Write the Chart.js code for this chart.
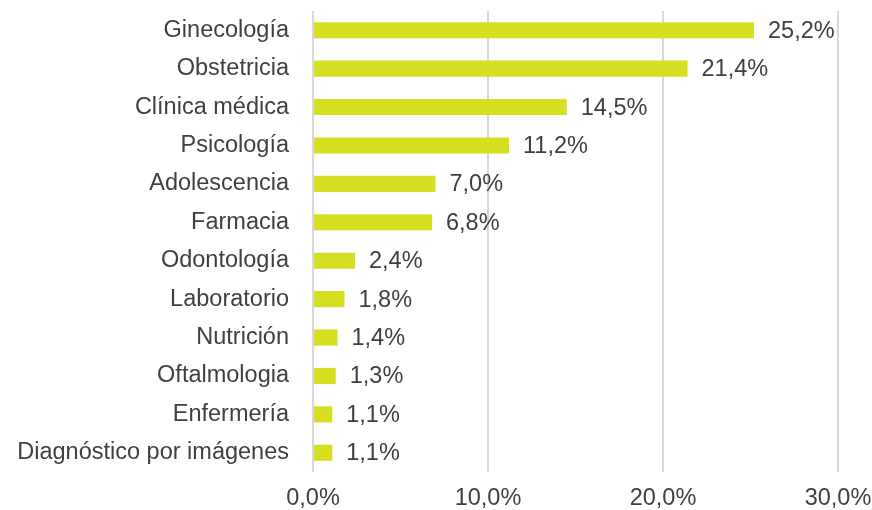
<!DOCTYPE html>
<html>
<head>
<meta charset="utf-8">
<script src="https://cdn.jsdelivr.net/npm/chart.js@4"></script>
<style>
  body { margin: 0; background: #fff; }
</style>
</head>
<body>
<canvas id="chart" width="872" height="510"></canvas>
<script>
const categories = ['Ginecología', 'Obstetricia', 'Clínica médica', 'Psicología', 'Adolescencia',
  'Farmacia', 'Odontología', 'Laboratorio', 'Nutrición', 'Oftalmologia', 'Enfermería',
  'Diagnóstico por imágenes'];
const shares = [25.2, 21.4, 14.5, 11.2, 7.0, 6.8, 2.4, 1.8, 1.4, 1.3, 1.1, 1.1];
const xTicks = [0, 10, 20, 30];

const fmt = v => v.toFixed(1).replace('.', ',') + '%';

// value labels to the right of each bar
const barLabels = {
  id: 'barLabels',
  afterDatasetsDraw(chart) {
    const ctx = chart.ctx;
    const meta = chart.getDatasetMeta(0);
    ctx.save();
    ctx.font = "23.5px 'Liberation Sans', Arial, sans-serif";
    ctx.fillStyle = '#404040';
    ctx.textAlign = 'left';
    ctx.textBaseline = 'middle';
    meta.data.forEach((bar, i) => {
      ctx.fillText(fmt(shares[i]), bar.x + 14, bar.y + 1);
    });
    ctx.restore();
  }
};

Chart.defaults.font.family = "'Liberation Sans', Arial, sans-serif";
Chart.defaults.font.size = 23.5;
Chart.defaults.color = '#404040';

new Chart(document.getElementById('chart'), {
  type: 'bar',
  data: {
    labels: categories,
    datasets: [{
      data: shares,
      backgroundColor: '#d6df21',
      barPercentage: 0.42,
      categoryPercentage: 1
    }]
  },
  options: {
    indexAxis: 'y',
    responsive: false,
    animation: false,
    layout: { padding: { top: 11, right: 34, bottom: 0, left: 0 } },
    plugins: {
      legend: { display: false },
      tooltip: { enabled: false }
    },
    scales: {
      x: {
        min: 0,
        max: 30,
        afterBuildTicks: scale => { scale.ticks = xTicks.map(v => ({ value: v })); },
        afterFit: scale => {
          scale.height = 38;
          scale.paddingLeft = 0;
          scale.paddingRight = 0;
        },
        grid: { color: '#d9d9d9', lineWidth: 2, drawTicks: false },
        border: { display: false },
        ticks: { padding: 12, callback: v => fmt(v), maxRotation: 0 }
      },
      y: {
        afterFit: scale => {
          scale.width = 313;
          scale.paddingTop = 0;
          scale.paddingBottom = 0;
        },
        grid: { display: false, drawTicks: true, tickLength: 24 },
        border: { display: false },
        ticks: { padding: 0 }
      }
    }
  },
  plugins: [barLabels]
});
</script>
</body>
</html>
